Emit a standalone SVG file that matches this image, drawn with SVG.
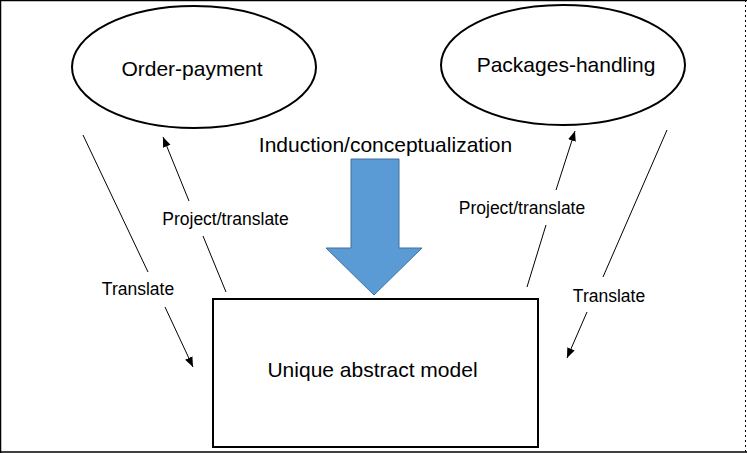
<svg xmlns="http://www.w3.org/2000/svg" width="747" height="453" viewBox="0 0 747 453">
<defs>
<style>
.big{font-family:"Liberation Sans",Arial,sans-serif;font-size:21px;fill:#000;text-anchor:middle}
.lbl{font-family:"Liberation Sans",Arial,sans-serif;font-size:17.5px;fill:#000;text-anchor:middle}
.shape{fill:#fff;stroke:#000;stroke-width:2}
.conn{stroke:#000;stroke-width:1;fill:none}
</style>
<marker id="ah" viewBox="0 0 10 10" refX="10" refY="5" markerWidth="10" markerHeight="10" markerUnits="userSpaceOnUse" orient="auto">
<path d="M0,1 L10,5 L0,9 Z" fill="#000"/>
</marker>
</defs>
<rect x="0" y="0" width="747" height="453" fill="#fff"/>
<g id="frame">
<line x1="0.5" y1="0" x2="0.5" y2="453" stroke="#000" stroke-width="1.5"/>
<line x1="0" y1="0.5" x2="747" y2="0.5" stroke="#000" stroke-width="1.5"/>
<line x1="0" y1="452" x2="747" y2="452" stroke="#000" stroke-width="1.5"/>
<line x1="745.5" y1="0" x2="745.5" y2="453" stroke="#000" stroke-width="1" stroke-dasharray="2,3"/>
</g>
<g id="order-payment">
<ellipse class="shape" cx="194" cy="67" rx="122" ry="61"/>
<text class="big" x="192" y="76">Order-payment</text>
</g>
<g id="packages-handling">
<ellipse class="shape" cx="563" cy="65" rx="122" ry="60"/>
<text class="big" x="566" y="72">Packages-handling</text>
</g>
<g id="induction">
<text class="big" x="385.5" y="152">Induction/conceptualization</text>
<path d="M351,159 L399,159 L399,248 L422,248 L374,295 L326,248 L351,248 Z" fill="#5B9BD5" stroke="#41719C" stroke-width="1"/>
</g>
<g id="unique-model">
<rect class="shape" x="213" y="299" width="325" height="148"/>
<text class="big" x="372.5" y="377">Unique abstract model</text>
</g>
<g id="connectors">
<line class="conn" x1="83" y1="135" x2="148" y2="272"/>
<line class="conn" x1="165" y1="307" x2="193" y2="367" marker-end="url(#ah)"/>
<line class="conn" x1="226" y1="292" x2="203" y2="236"/>
<line class="conn" x1="189" y1="201" x2="163" y2="137" marker-end="url(#ah)"/>
<line class="conn" x1="527" y1="287" x2="546" y2="225"/>
<line class="conn" x1="556" y1="190" x2="575" y2="131" marker-end="url(#ah)"/>
<line class="conn" x1="667" y1="130" x2="603" y2="277"/>
<line class="conn" x1="587" y1="312" x2="567" y2="358" marker-end="url(#ah)"/>
<text class="lbl" x="138" y="295">Translate</text>
<text class="lbl" x="225.5" y="225">Project/translate</text>
<text class="lbl" x="522" y="214">Project/translate</text>
<text class="lbl" x="609" y="302">Translate</text>
</g>
</svg>
